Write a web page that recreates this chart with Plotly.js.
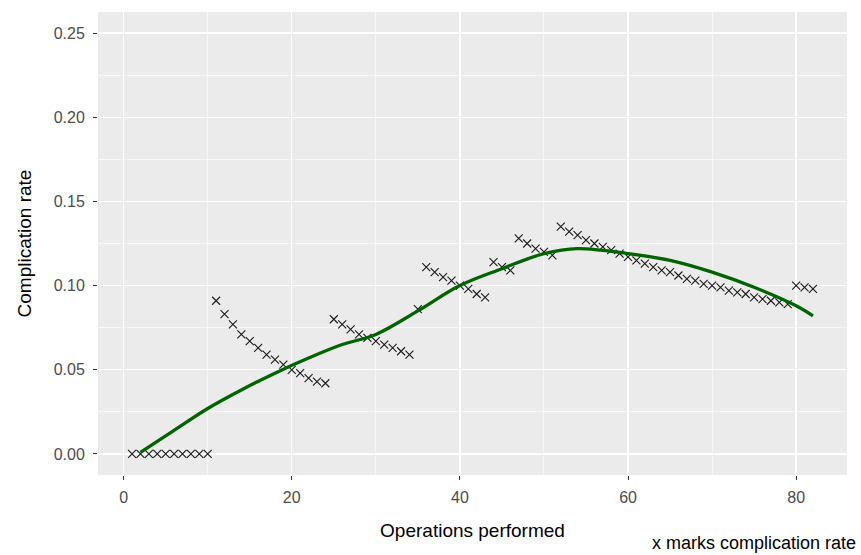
<!DOCTYPE html>
<html>
<head>
<meta charset="utf-8">
<script src="https://cdn.plot.ly/plotly-3.0.1.min.js"></script>
<style>html,body{margin:0;padding:0;background:#fff;}#chart{width:861px;height:555px;}</style>
</head>
<body>
<div id="chart"></div>
<script>
// Observed complication rate per operation number
const operations = [1,2,3,4,5,6,7,8,9,10,11,12,13,14,15,16,17,18,19,20,21,22,23,24,25,26,27,28,29,30,31,32,33,34,35,36,37,38,39,40,41,42,43,44,45,46,47,48,49,50,51,52,53,54,55,56,57,58,59,60,61,62,63,64,65,66,67,68,69,70,71,72,73,74,75,76,77,78,79,80,81,82];
const rates = [0,0,0,0,0,0,0,0,0,0,
  0.091,0.083,0.077,0.071,0.067,0.063,0.059,0.056,0.053,0.050,0.048,0.045,0.043,0.042,
  0.080,0.077,0.074,0.071,0.069,0.067,0.065,0.063,0.061,0.059,
  0.086,
  0.111,0.108,0.105,0.103,0.100,0.098,0.095,0.093,
  0.114,0.111,0.109,
  0.128,0.125,0.122,0.120,0.118,
  0.135,0.132,0.130,0.127,0.125,0.123,0.121,0.119,0.117,0.115,0.113,0.111,0.109,0.108,0.106,0.104,0.103,0.101,0.100,0.099,0.097,0.096,0.095,0.093,0.092,0.091,0.090,0.089,
  0.100,0.099,0.098];
// Smoothed trend
const smoothX = [2,6,10,14,18,22,26,30,35,40,45,50,54,60,65,70,75,80,82];
const smoothY = [0.001,0.014,0.027,0.038,0.048,0.057,0.065,0.071,0.085,0.100,0.110,0.119,0.122,0.119,0.115,0.108,0.099,0.088,0.082];

const font = "Liberation Sans, Arial, sans-serif";
const traces = [
  {x: operations, y: rates, type: 'scatter', mode: 'markers',
   marker: {symbol: 'x-thin-open', size: 8, color: '#1a1a1a', line: {width: 1.1, color: '#1a1a1a'}},
   hoverinfo: 'x+y'},
  {x: smoothX, y: smoothY, type: 'scatter', mode: 'lines',
   line: {color: '#006400', width: 3.3, shape: 'spline', smoothing: 1}}
];
const layout = {
  width: 861, height: 555,
  margin: {l: 98, r: 14, t: 12, b: 80},
  paper_bgcolor: '#ffffff', plot_bgcolor: '#EBEBEB',
  showlegend: false,
  font: {family: font},
  xaxis: {
    range: [-3.05, 86.05], dtick: 20, tick0: 0,
    showgrid: true, gridcolor: '#ffffff', gridwidth: 1.3, zeroline: false,
    minor: {dtick: 10, tick0: 0, showgrid: true, gridcolor: '#ffffff', gridwidth: 0.6, ticks: ''},
    ticks: 'outside', ticklen: 4, tickcolor: '#333333', tickwidth: 1,
    ticklabelstandoff: 4,
    tickfont: {size: 16, color: '#4D4D4D', family: font},
    showline: false,
    title: {text: 'Operations performed', font: {size: 19, color: '#000000', family: font}, standoff: 18}
  },
  yaxis: {
    range: [-0.0125, 0.2625], dtick: 0.05, tick0: 0, tickformat: '.2f',
    showgrid: true, gridcolor: '#ffffff', gridwidth: 1.3, zeroline: false,
    minor: {dtick: 0.025, tick0: 0, showgrid: true, gridcolor: '#ffffff', gridwidth: 0.6, ticks: ''},
    ticks: 'outside', ticklen: 4, tickcolor: '#333333', tickwidth: 1,
    ticklabelstandoff: 5,
    tickfont: {size: 16, color: '#4D4D4D', family: font},
    showline: false,
    title: {text: 'Complication rate', font: {size: 19, color: '#000000', family: font}, standoff: 17}
  },
  annotations: [{
    text: 'x marks complication rate', xref: 'paper', yref: 'paper',
    x: 1.0147, y: -0.147, xanchor: 'right', yanchor: 'middle', showarrow: false,
    font: {size: 18, color: '#000000', family: font}
  }]
};
Plotly.newPlot('chart', traces, layout, {displayModeBar: false, staticPlot: true});
</script>
</body>
</html>
